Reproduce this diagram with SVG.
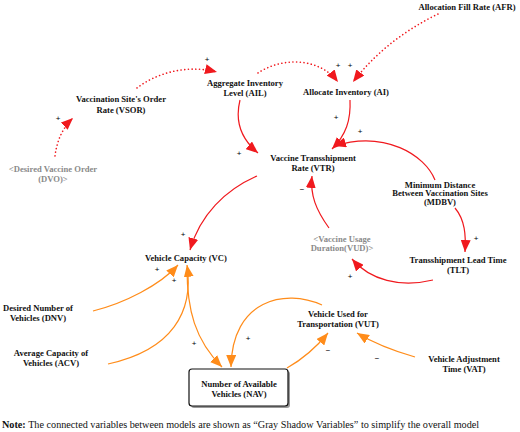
<svg xmlns="http://www.w3.org/2000/svg" width="520" height="432" viewBox="0 0 520 432">
<defs>
<style>
.t{font-family:"Liberation Serif","Times New Roman",serif;font-size:8.6px;font-weight:bold;fill:#111;text-anchor:middle}
.g{fill:#8a8a8a}
.s{font-family:"Liberation Sans",Arial,sans-serif;font-size:8px;fill:#000;text-anchor:middle}
.r{fill:none;stroke:#f0191e;stroke-width:1.2}
.rd{fill:none;stroke:#f0191e;stroke-width:1.6;stroke-dasharray:0.1 3.6;stroke-linecap:round}
.o{fill:none;stroke:#ff8c1a;stroke-width:1.2}
.note{font-family:"Liberation Serif","Times New Roman",serif;font-size:10.2px;fill:#111}
</style>
<marker id="ar" markerUnits="userSpaceOnUse" markerWidth="14" markerHeight="10" refX="12" refY="5" orient="auto">
<path d="M0,0 L12,5 L0,10 z" fill="#f0191e"/>
</marker>
<marker id="ao" markerUnits="userSpaceOnUse" markerWidth="14" markerHeight="10" refX="12" refY="5" orient="auto">
<path d="M0,0 L12,5 L0,10 z" fill="#ff8c1a"/>
</marker>
</defs>
<rect width="520" height="432" fill="#fff"/>
<g id="connectors">
<path class="rd" d="M55,156 Q58,132 73,118" marker-end="url(#ar)"/>
<path class="rd" d="M137,88 C155,74 185,64 217,72" marker-end="url(#ar)"/>
<path class="rd" d="M258,73 C280,58 318,56 338,82" marker-end="url(#ar)"/>
<path class="rd" d="M438,14 Q385,40 353,82" marker-end="url(#ar)"/>
<path class="r" d="M240,100 C235,120 240,138 258,153" marker-end="url(#ar)"/>
<path class="r" d="M350,100 C351,120 346,135 332,149" marker-end="url(#ar)"/>
<path class="r" d="M435,180 C425,155 385,130 334,146" marker-end="url(#ar)"/>
<path class="r" d="M257,176 C225,190 200,215 190,250" marker-end="url(#ar)"/>
<path class="r" d="M455,208 C465,220 466,235 465,252" marker-end="url(#ar)"/>
<path class="r" d="M433,280 C400,288 370,280 352,259" marker-end="url(#ar)"/>
<path class="r" d="M329,228 C316,210 310,195 312,176" marker-end="url(#ar)"/>
<path class="o" d="M93,311 C125,303 160,285 178,265" marker-end="url(#ao)"/>
<path class="o" d="M108,364 C172,350 194,312 187,265" marker-end="url(#ao)"/>
<path class="o" d="M187,268 C187,310 195,340 222,367" marker-end="url(#ao)"/>
<path class="o" d="M322,305 C285,288 232,300 231,367" marker-end="url(#ao)"/>
<path class="o" d="M287,368 Q310,355 328,333" marker-end="url(#ao)"/>
<path class="o" d="M415,357 Q380,347 357,333" marker-end="url(#ao)"/>
<g class="s">
<text x="58" y="121">+</text>
<text x="207" y="62">+</text>
<text x="338" y="68">+</text>
<text x="350" y="68">+</text>
<text x="239" y="156">+</text>
<text x="336" y="120">+</text>
<text x="360" y="134">+</text>
<text x="183" y="237">+</text>
<text x="476" y="241">+</text>
<text x="350" y="279">+</text>
<text x="157" y="272">+</text>
<text x="174" y="283">+</text>
<text x="194" y="346">+</text>
<text x="248" y="341">+</text>
<text x="302" y="192">−</text>
<text x="328" y="353">−</text>
<text x="377" y="361">−</text>
</g>
</g>
<g id="AFR"><text class="t" x="467" y="10">Allocation Fill Rate (AFR)</text></g>
<g id="VSOR"><text class="t" x="121" y="102">Vaccination Site's Order</text><text class="t" x="121" y="113">Rate (VSOR)</text></g>
<g id="AIL"><text class="t" x="245" y="86">Aggregate Inventory</text><text class="t" x="245" y="96">Level (AIL)</text></g>
<g id="AI"><text class="t" x="346" y="95">Allocate Inventory (AI)</text></g>
<g id="VTR"><text class="t" x="313" y="161">Vaccine Transshipment</text><text class="t" x="313" y="171">Rate (VTR)</text></g>
<g id="DVO"><text class="t g" x="53" y="172">&lt;Desired Vaccine Order</text><text class="t g" x="53" y="182">(DVO)&gt;</text></g>
<g id="MDBV"><text class="t" x="440" y="187.5">Minimum Distance</text><text class="t" x="440" y="196.1">Between Vaccination Sites</text><text class="t" x="440" y="204.7">(MDBV)</text></g>
<g id="VUD"><text class="t g" x="342" y="242">&lt;Vaccine Usage</text><text class="t g" x="342" y="251">Duration(VUD)&gt;</text></g>
<g id="TLT"><text class="t" x="458" y="263">Transshipment Lead Time</text><text class="t" x="458" y="273">(TLT)</text></g>
<g id="VC"><text class="t" x="186" y="261">Vehicle Capacity (VC)</text></g>
<g id="DNV"><text class="t" x="38" y="311">Desired Number of</text><text class="t" x="38" y="321">Vehicles (DNV)</text></g>
<g id="ACV"><text class="t" x="51" y="356">Average Capacity of</text><text class="t" x="51" y="366">Vehicles (ACV)</text></g>
<g id="NAV">
<rect x="191" y="371" width="99" height="37" rx="3" fill="#999"/>
<rect x="189" y="369" width="99" height="37" rx="3" fill="#fff" stroke="#111" stroke-width="1.2"/>
<text class="t" x="239" y="387">Number of Available</text><text class="t" x="239" y="397">Vehicles (NAV)</text>
</g>
<g id="VUT"><text class="t" x="338" y="317">Vehicle Used for</text><text class="t" x="338" y="327">Transportation (VUT)</text></g>
<g id="VAT"><text class="t" x="464" y="362">Vehicle Adjustment</text><text class="t" x="464" y="372">Time (VAT)</text></g>
<text class="note" x="2" y="428"><tspan font-weight="bold">Note:</tspan> The connected variables between models are shown as “Gray Shadow Variables” to simplify the overall model</text>
</svg>
